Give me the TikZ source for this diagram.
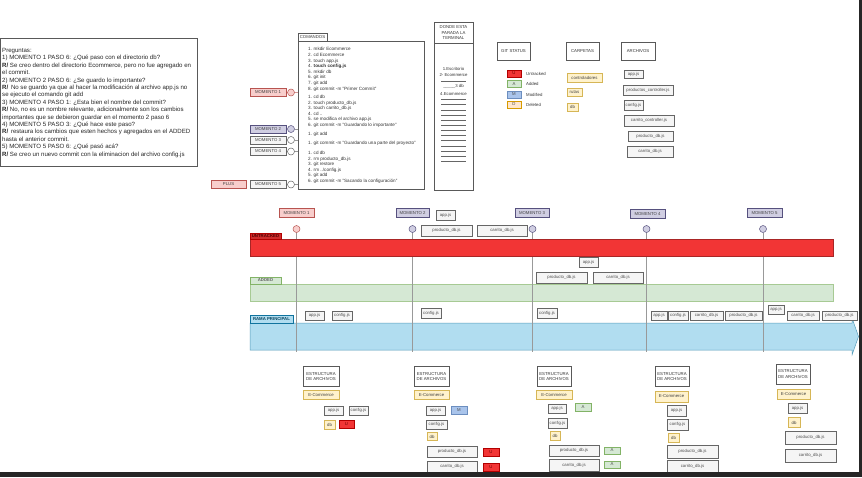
\documentclass[tikz,border=0pt]{standalone}
\usepackage{fontspec}
\setmainfont{Liberation Sans}
\usetikzlibrary{shadows}
\definecolor{untr}{HTML}{F23535}
\definecolor{untrD}{HTML}{B20000}
\definecolor{addF}{HTML}{D5E8D4}
\definecolor{addD}{HTML}{82B366}
\definecolor{modF}{HTML}{A9C4EB}
\definecolor{modD}{HTML}{6C8EBF}
\definecolor{delF}{HTML}{FFE6CC}
\definecolor{delD}{HTML}{D79B00}
\definecolor{fldF}{HTML}{FFF2CC}
\definecolor{fldD}{HTML}{D6B656}
\definecolor{filF}{HTML}{F5F5F5}
\definecolor{filD}{HTML}{666666}
\definecolor{m1F}{HTML}{F8CECC}
\definecolor{m1D}{HTML}{B85450}
\definecolor{m2F}{HTML}{D0CEE2}
\definecolor{m2D}{HTML}{56517E}
\definecolor{brF}{HTML}{B1DDF0}
\definecolor{brD}{HTML}{10739E}
% box given by its top-left and bottom-right corners
\newcommand\bx[7]{\node[#1,anchor=north west,minimum width={(#5-#3)*1pt},minimum height={(#6-#4)*1pt}] (#2) at (#3,#4) {#7};}
\tikzset{
  base/.style={inner sep=0.3pt, outer sep=0pt, font=\fontsize{4.3}{5.2}\selectfont, align=center, line width=0.5pt},
  hdr/.style={base, draw=black!65, fill=white, text=black!80},
  hdrs/.style={hdr, drop shadow={shadow xshift=0.7pt, shadow yshift=-0.7pt, opacity=0.35}},
  file/.style={base, draw=filD, fill=filF, text=black!70},
  fold/.style={base, draw=fldD, fill=fldF, text=black!75},
  ubox/.style={base, draw=untrD, fill=untr, text=untrD!60!black},
  abox/.style={base, draw=addD, fill=addF, text=black!70},
  mbox/.style={base, draw=modD, fill=modF, text=black!70},
  dbox/.style={base, draw=delD, fill=delF, text=black!70},
  momA/.style={base, draw=m1D, fill=m1F, text=black!75},
  momB/.style={base, draw=m2D, fill=m2F, text=black!75},
  momC/.style={base, draw=filD, fill=filF, text=black!75},
  dotA/.style={circle, draw=m1D, fill=m1F, minimum size=7pt, inner sep=0pt, line width=0.5pt},
  dotB/.style={circle, draw=m2D, fill=m2F, minimum size=7pt, inner sep=0pt, line width=0.5pt},
  dotC/.style={circle, draw=filD, fill=white, minimum size=7pt, inner sep=0pt, line width=0.5pt},
  link/.style={draw=black!40, line width=0.5pt},
  linkA/.style={draw=m1D!60, line width=0.5pt},
  plain/.style={inner sep=0pt, font=\fontsize{4.3}{5.2}\selectfont, text=black!80},
  cmdtxt/.style={inner sep=0pt, anchor=north west, align=left, font=\fontsize{4.6}{5.6}\selectfont, text=black!80},
  qtext/.style={inner sep=0pt, anchor=north west, align=left, font=\fontsize{6.1}{7.4}\selectfont, text=black!85},
  termline/.style={draw=black!60, line width=0.5pt},
  barU/.style={base, draw=untr!70!black, fill=untr},
  barA/.style={base, draw=addD!70, fill=addF},
  labU/.style={base, draw=untrD, fill=untr!85!black, text=untrD!45!black, font=\fontsize{4.3}{5.2}\selectfont\bfseries},
  labA/.style={base, draw=addD, fill=addF, text=black!60, font=\fontsize{4.3}{5.2}\selectfont\bfseries},
  labB/.style={base, draw=brD, fill=brF, text=brD!60!black, font=\fontsize{4.3}{5.2}\selectfont\bfseries},
  branch/.style={draw=brD!70, fill=brF, line width=0.5pt},
}
\begin{document}
\begin{tikzpicture}[x=1pt,y=-1pt]
\useasboundingbox (0,0) rectangle (862,477);
\fill[white] (0,0) rectangle (862,477);

% ---------- questions ----------
\bx{hdr}{qbox}{0.5}{38}{197}{166}{}
\node[qtext] (qtxt) at (2,48) {Preguntas:\\
1) MOMENTO 1 PASO 6: ¿Qué paso con el directorio db?\\
\textbf{R/} Se creo dentro del directorio Ecommerce, pero no fue agregado en\\
el commit.\\
2) MOMENTO 2 PASO 6: ¿Se guardo lo importante?\\
\textbf{R/}\, No se guardo ya que al hacer la modificación al archivo app.js no\\
se ejecuto el comando git add\\
3) MOMENTO 4 PASO 1: ¿Esta bien el nombre del commit?\\
\textbf{R/} No, no es un nombre relevante, adicionalmente son los cambios\\
importantes que se debieron guardar en el momento 2 paso 6\\
4) MOMENTO 5 PASO 3: ¿Qué hace este paso?\\
\textbf{R/}\, restaura los cambios que esten hechos y agregados en el ADDED\\
hasta el anterior commit.\\
5) MOMENTO 5 PASO 6: ¿Qué pasó acá?\\
\textbf{R/} Se creo un nuevo commit con la eliminacion del archivo config.js};

% ---------- commands ----------
\bx{hdr}{cmd}{298}{41}{424}{189}{}
\bx{hdr}{cmdh}{298}{33.5}{327}{41}{COMANDOS}
\node[cmdtxt] (cmdA) at (308,47.4) {1. mkdir Ecommerce\\2. cd Ecommerce\\3. touch app.js\\4. \textbf{touch config.js}\\5. mkdir db\\6. git init\\7. git add\\8. git commit -m "Primer Commit"};
\node[cmdtxt] (cmdB) at (308,94.9) {1. cd db\\2. touch producto\_db.js\\3. touch carrito\_db.js\\4. cd ..\\5. se modifica el archivo app.js\\6. git commit -m "Guardando lo importante"};
\node[cmdtxt] (cmdC) at (308,131.9) {1. git add};
\node[cmdtxt] (cmdD) at (308,140.9) {1. git commit -m "Guardando una parte del proyecto"};
\node[cmdtxt] (cmdE) at (308,150.9) {1. cd db\\2. rm producto\_db.js\\3. git restore\\4. rm ../config.js\\5. git add\\6. git commit -m "Sacando la configuración"};

% ---------- moments (left) ----------
\bx{momA}{lm1}{250}{88.5}{286}{96.5}{MOMENTO 1}
\bx{momB}{lm2}{250}{125}{286}{133}{MOMENTO 2}
\bx{momC}{lm3}{250}{136}{286}{144}{MOMENTO 3}
\bx{momC}{lm4}{250}{147.5}{286}{155.5}{MOMENTO 4}
\bx{momA}{plus}{211}{180.5}{246}{188.5}{PLUS}
\bx{momC}{lm5}{250}{180.5}{286}{188.5}{MOMENTO 5}
\node[dotA] (lc1) at (291,92.5) {};
\node[dotB] (lc2) at (291,129) {};
\node[dotC] (lc3) at (291,140) {};
\node[dotC] (lc4) at (291,151.5) {};
\node[dotC] (lc5) at (291,184.5) {};
\draw[linkA] (lc1) -- (lc1 -| cmd.west);
\foreach \c in {lc2,lc3,lc4,lc5} \draw[link] (\c) -- (\c -| cmd.west);

% ---------- terminal ----------
\bx{hdr}{termb}{434}{43}{473}{190}{}
\bx{hdr}{termh}{434}{22}{473}{43}{DONDE ESTA\\PARADA LA\\TERMINAL}
\node[plain] (t1) at (453.5,69) {1.Escritorio};
\node[plain] (t2) at (453.5,75.5) {2- Ecommerce};
\draw[termline] (441,81.5) -- (466,81.5);
\node[plain] (t3) at (453.5,86) {\_\_\_\_\_3 db};
\node[plain] (t4) at (453.5,94.5) {4.Ecommerce};
\foreach \i in {0,...,12} \draw[termline] (441,99.5+\i*5.15) -- (466,99.5+\i*5.15);

% ---------- legend ----------
\bx{hdrs}{gs}{497}{42}{530}{60}{GIT STATUS}
\bx{ubox}{lgU}{507}{70}{521}{77}{U}
\bx{abox}{lgA}{507}{80.5}{521}{87.5}{A}
\bx{mbox}{lgM}{507}{91}{521}{98}{M}
\bx{dbox}{lgD}{507}{101}{521}{108}{D}
\node[plain, anchor=west] (lgUt) at (526,73.5) {Untracked};
\node[plain, anchor=west] (lgAt) at (526,84) {Added};
\node[plain, anchor=west] (lgMt) at (526,94.5) {Modified};
\node[plain, anchor=west] (lgDt) at (526,104.5) {Deleted};

\bx{hdrs}{carp}{566}{42}{599}{60}{CARPETAS}
\bx{fold}{fc}{567}{73}{602}{82}{controladores}
\bx{fold}{fr}{567}{88}{582}{96}{rutas}
\bx{fold}{fdb}{567}{103}{578}{111}{db}

\bx{hdrs}{arch}{621}{42}{655}{60}{ARCHIVOS}
\bx{file}{fa1}{624}{70}{643}{78}{app.js}
\bx{file}{fa2}{623}{85}{673}{95}{productos\_controller.js}
\bx{file}{fa3}{624}{100}{643}{110}{config.js}
\bx{file}{fa4}{624}{115}{674}{126}{carrito\_controller.js}
\bx{file}{fa5}{628}{131}{673}{141}{producto\_db.js}
\bx{file}{fa6}{627}{146}{673}{157}{carrito\_db.js}

% ---------- timeline ----------
\bx{barA}{abar}{250}{284}{833}{301.5}{}
\path[branch] (250,323) -- (852,323) -- (852,318) -- (858.5,336.5) -- (852,355) -- (852,350) -- (250,350) -- cycle;

\bx{momA}{tm1}{279}{208.5}{314}{217}{MOMENTO 1}
\bx{momB}{tm2}{396}{208.5}{429}{217.5}{MOMENTO 2}
\bx{momB}{tm3}{515}{208.5}{549}{217.5}{MOMENTO 3}
\bx{momB}{tm4}{630}{209.5}{665}{218}{MOMENTO 4}
\bx{momB}{tm5}{747}{208.5}{782}{217}{MOMENTO 5}
\node[dotA] (tc1) at (296.5,229) {};
\node[dotB] (tc2) at (412.5,229) {};
\node[dotB] (tc3) at (532.5,229) {};
\node[dotB] (tc4) at (646.5,229) {};
\node[dotB] (tc5) at (763,229) {};
\coordinate (te1) at (296.5,352);
\coordinate (te2) at (412.5,352);
\coordinate (te3) at (532.5,352);
\coordinate (te4) at (646.5,352);
\coordinate (te5) at (763,352);
\foreach \k in {1,...,5} \draw[link] (tc\k) -- (te\k);

\bx{barU}{ubar}{250}{239}{833}{256.5}{}
\bx{labU}{ulab}{250}{233}{281}{239.5}{UNTRACKED}
\bx{labA}{alab}{250}{277}{281}{284}{ADDED}
\bx{labB}{blab}{250}{315}{293}{323}{RAMA PRINCIPAL}

\bx{file}{u1}{436}{210}{455}{220}{app.js}
\bx{file}{u2}{421}{225.5}{472}{236}{producto\_db.js}
\bx{file}{u3}{477}{225.5}{527}{236}{carrito\_db.js}

\bx{file}{a1}{579}{257.5}{598}{267}{app.js}
\bx{file}{a2}{536}{272.5}{587}{283}{producto\_db.js}
\bx{file}{a3}{593}{272.5}{643}{283}{carrito\_db.js}

\bx{file}{r1}{305}{311}{324}{320}{app.js}
\bx{file}{r2}{332}{311}{352}{320}{config.js}
\bx{file}{r3}{421}{308.5}{441}{318}{config.js}
\bx{file}{r4}{537}{308.5}{557}{318}{config.js}
\bx{file}{r5}{651}{311}{667}{320}{app.js}
\bx{file}{r6}{668}{311}{688}{320}{config.js}
\bx{file}{r7}{690}{311}{723}{320}{carrito\_db.js}
\bx{file}{r8}{725}{311}{762}{320}{producto\_db.js}
\bx{file}{r9}{768}{305}{784}{314.5}{app.js}
\bx{file}{r10}{787}{311}{819}{320}{carrito\_db.js}
\bx{file}{r11}{822}{311}{857}{320}{producto\_db.js}

% ---------- file structures ----------
\bx{hdrs}{e1}{303}{366.5}{339}{386}{ESTRUCTURA\\DE ARCHIVOS}
\bx{fold}{e1c}{303}{390}{339}{399.5}{E-Commerce}
\bx{file}{e1a}{324}{406.5}{343}{415}{app.js}
\bx{file}{e1b}{349}{406.5}{368}{415}{config.js}
\bx{fold}{e1d}{324}{420}{335}{429}{db}
\bx{ubox}{e1u}{339}{420.5}{354}{428}{U}

\bx{hdrs}{e2}{414}{366.5}{449}{386}{ESTRUCTURA\\DE ARCHIVOS}
\bx{fold}{e2c}{414}{390}{449}{399.5}{E-Commerce}
\bx{file}{e2a}{426}{406.5}{445}{415}{app.js}
\bx{mbox}{e2m}{451}{406.5}{467}{414}{M}
\bx{file}{e2b}{426}{420}{447}{429}{config.js}
\bx{fold}{e2d}{427}{432.5}{437}{440.5}{db}
\bx{file}{e2p}{427}{446.5}{477}{457}{producto\_db.js}
\bx{ubox}{e2pu}{483}{448}{499}{456}{U}
\bx{file}{e2r}{427}{461.5}{477}{472}{carrito\_db.js}
\bx{ubox}{e2ru}{483}{463}{499}{471}{U}

\bx{hdrs}{e3}{537}{366.5}{571}{386}{ESTRUCTURA\\DE ARCHIVOS}
\bx{fold}{e3c}{536}{390.5}{572}{399.5}{E-Commerce}
\bx{file}{e3a}{548}{404}{566}{413}{app.js}
\bx{abox}{e3aa}{575}{403}{591}{411}{A}
\bx{file}{e3b}{548}{418}{567}{428}{config.js}
\bx{fold}{e3d}{550}{431.5}{560}{440}{db}
\bx{file}{e3p}{549}{445}{599}{456}{producto\_db.js}
\bx{abox}{e3pa}{604}{447}{620}{454}{A}
\bx{file}{e3r}{549}{459}{599}{471}{carrito\_db.js}
\bx{abox}{e3ra}{604}{461}{620}{468}{A}

\bx{hdrs}{e4}{655}{366.5}{689}{386}{ESTRUCTURA\\DE ARCHIVOS}
\bx{fold}{e4c}{655}{391}{688}{402}{E-Commerce}
\bx{file}{e4a}{667}{405}{686}{416}{app.js}
\bx{file}{e4b}{667}{419}{688}{430}{config.js}
\bx{fold}{e4d}{668}{433}{679}{442}{db}
\bx{file}{e4p}{667}{445.5}{718}{458}{producto\_db.js}
\bx{file}{e4r}{667}{460}{718}{472}{carrito\_db.js}

\bx{hdrs}{e5}{776}{364}{810}{384}{ESTRUCTURA\\DE ARCHIVOS}
\bx{fold}{e5c}{777}{389}{810}{399.5}{E-Commerce}
\bx{file}{e5a}{788}{403}{807}{413}{app.js}
\bx{fold}{e5d}{788}{417.5}{800}{427.5}{db}
\bx{file}{e5p}{785}{431.5}{836}{444}{producto\_db.js}
\bx{file}{e5r}{785}{449.5}{836}{462}{carrito\_db.js}

% ---------- frame edges ----------
\fill[black!85] (859,0) rectangle (862,477);
\fill[black!85] (0,472) rectangle (862,477);
\end{tikzpicture}
\end{document}
